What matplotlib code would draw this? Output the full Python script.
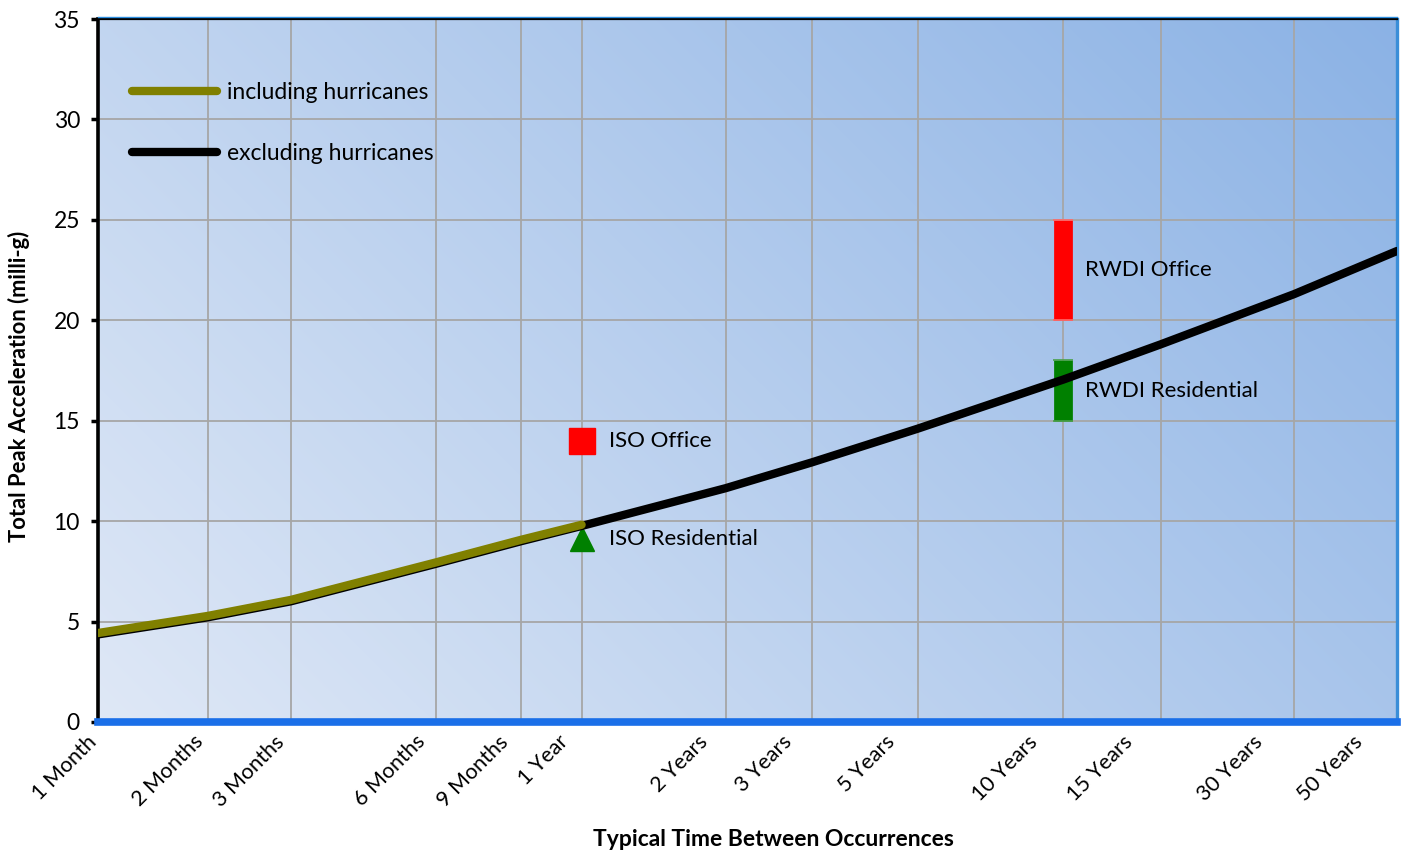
import numpy as np
import matplotlib
matplotlib.use("Agg")
import matplotlib.pyplot as plt
from matplotlib.scale import FuncScale
from matplotlib.lines import Line2D
from matplotlib.transforms import ScaledTranslation

plt.rcParams['font.family'] = ['Lato', 'DejaVu Sans']

# ---- data -----------------------------------------------------------------
tick_months = [1, 2, 3, 6, 9, 12, 24, 36, 60, 120, 180, 360, 600]
tick_labels = ['1 Month', '2 Months', '3 Months', '6 Months', '9 Months', '1 Year',
               '2 Years', '3 Years', '5 Years', '10 Years', '15 Years', '30 Years',
               '50 Years']

incl_months = [1, 2, 3, 6, 9, 12]
incl_accel = [4.43, 5.28, 6.08, 7.94, 9.07, 9.82]

excl_months = [1, 2, 3, 6, 9, 12, 24, 36, 60, 120, 180, 360, 600]
excl_accel = [4.36, 5.21, 6.01, 7.87, 9.00, 9.76, 11.64, 12.92, 14.6, 17.05,
              18.8, 21.3, 23.45]

iso_month = 12
iso_office = 14.0
iso_residential = 9.1

rwdi_month = 120
rwdi_office = (20.0, 25.0)
rwdi_residential = (15.0, 18.0)

# ---- time axis: gridline position (pixels along the axis) of each period
grid_px = np.array([98, 207.6, 291, 435.5, 521, 581.6, 725.6, 811.5, 917.5,
                    1063.4, 1160.6, 1294, 1397])
grid_frac = (grid_px - grid_px[0]) / (grid_px[-1] - grid_px[0])
log_ticks = np.log10(tick_months)


def fwd(x):
    x = np.clip(np.asarray(x, dtype=float), 1e-6, None)
    lx = np.log10(x)
    slope_lo = (grid_frac[1] - grid_frac[0]) / (log_ticks[1] - log_ticks[0])
    slope_hi = (grid_frac[-1] - grid_frac[-2]) / (log_ticks[-1] - log_ticks[-2])
    out = np.interp(lx, log_ticks, grid_frac)
    out = np.where(lx < log_ticks[0], grid_frac[0] + (lx - log_ticks[0]) * slope_lo, out)
    out = np.where(lx > log_ticks[-1], grid_frac[-1] + (lx - log_ticks[-1]) * slope_hi, out)
    return out


def inv(y):
    y = np.asarray(y, dtype=float)
    slope_lo = (log_ticks[1] - log_ticks[0]) / (grid_frac[1] - grid_frac[0])
    slope_hi = (log_ticks[-1] - log_ticks[-2]) / (grid_frac[-1] - grid_frac[-2])
    out = np.interp(y, grid_frac, log_ticks)
    out = np.where(y < grid_frac[0], log_ticks[0] + (y - grid_frac[0]) * slope_lo, out)
    out = np.where(y > grid_frac[-1], log_ticks[-1] + (y - grid_frac[-1]) * slope_hi, out)
    return 10 ** out


# ---- figure -----------------------------------------------------------------
W, H = 1408, 852
fig = plt.figure(figsize=(W / 100, H / 100), dpi=100)
rect = [98 / W, (H - 722) / H, 1299 / W, 703 / H]

# diagonal gradient fill behind the plot area
bg = fig.add_axes(rect, zorder=0)
gw, gh = 1299, 703
xs = np.linspace(0, gw, 400)
ys = np.linspace(0, gh, 220)
XX, YY = np.meshgrid(xs, ys)
t = (XX + YY) / (gw + gh)
c0 = np.array([223, 232, 246]) / 255.0
c1 = np.array([139, 178, 229]) / 255.0
img = c0[None, None, :] * (1 - t[..., None]) + c1[None, None, :] * t[..., None]
bg.imshow(img, origin='lower', extent=(0, 1, 0, 1), aspect='auto',
          interpolation='bilinear')
bg.set_axis_off()

ax = fig.add_axes(rect, zorder=1)
ax.patch.set_visible(False)
ax.set_xscale(FuncScale(ax, (fwd, inv)))
ax.set_xlim(tick_months[0], tick_months[-1])
ax.set_ylim(0, 35)

FS = 16.5

# ticks and grid
ax.set_xticks(tick_months)
ax.set_xticks([], minor=True)
ax.set_yticks(np.arange(0, 36, 5))
ax.tick_params(axis='y', direction='out', length=5, width=2.5, labelsize=FS,
               pad=8, color='black')
ax.tick_params(axis='x', length=0, pad=7)
ax.set_xticklabels(tick_labels, rotation=45, ha='right', va='top',
                   rotation_mode='anchor', fontsize=15.5)
for lab, gx in zip(ax.get_xticklabels(), grid_px):
    dx = -(12 + 0.025 * (gx - grid_px[0]))
    lab.set_transform(lab.get_transform() +
                      ScaledTranslation(dx / 100, 0, fig.dpi_scale_trans))
ax.grid(True, color='#a6a6a6', linewidth=1.3, zorder=1)
ax.set_axisbelow(True)

# spines
ax.spines['left'].set_color('black')
ax.spines['left'].set_linewidth(2.6)
ax.spines['bottom'].set_color('#1a6fe8')
ax.spines['bottom'].set_linewidth(5.5)
ax.spines['top'].set_color('black')
ax.spines['top'].set_linewidth(1.6)
ax.spines['right'].set_color('#3a8ed8')
ax.spines['right'].set_linewidth(2.4)
ax.plot([0, 1], [1.003, 1.003], transform=ax.transAxes, color='#2b8ee0',
        lw=1.0, clip_on=False, zorder=6)

# RWDI ranges and ISO points
for (lo, hi), col, cap in [(rwdi_office, '#ff0000', '#ff6a6a'),
                           (rwdi_residential, '#008000', '#4aa04a')]:
    ax.vlines(rwdi_month, lo, hi, colors=col, linewidth=13.5, zorder=3,
              capstyle='butt')
    ax.plot([rwdi_month, rwdi_month], [lo, hi], linestyle='none', marker='_',
            markersize=14, markeredgewidth=1.2, color=cap, zorder=3)

ax.plot([iso_month], [iso_office], marker='s', markersize=19, color='#ff0000',
        linestyle='none', zorder=3)
ax.plot([iso_month], [iso_residential], marker='^', markersize=17,
        color='#008000', linestyle='none', zorder=3)

# curves
ax.plot(excl_months, excl_accel, color='black', lw=6, solid_capstyle='round',
        solid_joinstyle='round', zorder=4)
ax.plot(incl_months, incl_accel, color='#808000', lw=6, solid_capstyle='round',
        solid_joinstyle='round', zorder=5)

# labels on the reference marks
lab_kw = dict(textcoords='offset pixels', fontsize=16, va='center', ha='left',
              zorder=6)
ax.annotate('ISO Office', (iso_month, iso_office), xytext=(27, 0), **lab_kw)
ax.annotate('ISO Residential', (iso_month, iso_residential), xytext=(27, 0), **lab_kw)
ax.annotate('RWDI Office', (rwdi_month, np.mean(rwdi_office)), xytext=(22, 0), **lab_kw)
ax.annotate('RWDI Residential', (rwdi_month, np.mean(rwdi_residential)),
            xytext=(22, 0), **lab_kw)

# legend
handles = [Line2D([], [], color='#808000', lw=6, solid_capstyle='round'),
           Line2D([], [], color='black', lw=6, solid_capstyle='round')]
ax.legend(handles, ['including hurricanes', 'excluding hurricanes'],
          loc='upper left', bbox_to_anchor=(0.026, 0.911), frameon=False,
          fontsize=FS, handlelength=3.7, handletextpad=0.45, labelspacing=1.75,
          borderaxespad=0, borderpad=0)

ax.set_ylabel('Total Peak Acceleration (milli-g)', fontsize=15.8, fontweight='bold')
ax.yaxis.set_label_coords(-0.052, 0.477)
ax.set_xlabel('Typical Time Between Occurrences', fontsize=FS, fontweight='bold')
ax.xaxis.set_label_coords(0.52, -0.152)

fig.savefig('out.png', dpi=100)
